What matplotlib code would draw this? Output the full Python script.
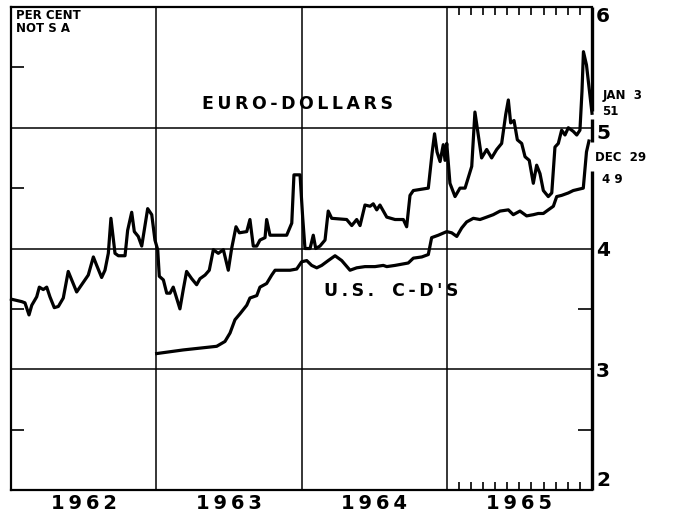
import numpy as np
import matplotlib
matplotlib.use("Agg")
import matplotlib.pyplot as plt
from matplotlib.transforms import ScaledTranslation

# Euro-dollar deposit rate (per cent), dates as decimal years
euro_dates = [1962.003, 1962.074, 1962.096, 1962.124, 1962.143, 1962.177, 1962.195, 1962.222,
              1962.246, 1962.268, 1962.298, 1962.326, 1962.360, 1962.394, 1962.418, 1962.452,
              1962.475, 1962.509, 1962.532, 1962.567, 1962.590, 1962.624, 1962.647, 1962.670,
              1962.688, 1962.716, 1962.739, 1962.785, 1962.803, 1962.831, 1962.849, 1962.876,
              1962.900, 1962.941, 1962.969, 1962.991, 1963.010, 1963.021, 1963.049, 1963.072,
              1963.095, 1963.117, 1963.163, 1963.186, 1963.209, 1963.244, 1963.278, 1963.301,
              1963.336, 1963.365, 1963.393, 1963.427, 1963.462, 1963.496, 1963.519, 1963.549,
              1963.572, 1963.623, 1963.645, 1963.668, 1963.692, 1963.714, 1963.749, 1963.760,
              1963.783, 1963.898, 1963.933, 1963.948, 1963.990, 1964.008, 1964.024, 1964.059,
              1964.081, 1964.098, 1964.127, 1964.162, 1964.184, 1964.208, 1964.311, 1964.346,
              1964.380, 1964.403, 1964.437, 1964.472, 1964.494, 1964.518, 1964.540, 1964.587,
              1964.644, 1964.701, 1964.724, 1964.747, 1964.770, 1964.873, 1964.900, 1964.916,
              1964.933, 1964.954, 1964.976, 1964.988, 1965.000, 1965.022, 1965.057, 1965.091,
              1965.126, 1965.172, 1965.194, 1965.240, 1965.275, 1965.309, 1965.344, 1965.378,
              1965.406, 1965.424, 1965.440, 1965.463, 1965.486, 1965.516, 1965.539, 1965.568,
              1965.596, 1965.619, 1965.642, 1965.665, 1965.699, 1965.723, 1965.745, 1965.768,
              1965.791, 1965.814, 1965.837, 1965.871, 1965.895, 1965.917, 1965.931, 1965.941,
              1965.962, 1966.000]
euro_rate = [3.58, 3.56, 3.55, 3.45, 3.53, 3.60, 3.68, 3.66,
             3.68, 3.60, 3.51, 3.52, 3.59, 3.81, 3.74, 3.64,
             3.68, 3.74, 3.78, 3.93, 3.86, 3.76, 3.82, 3.96,
             4.25, 3.96, 3.94, 3.94, 4.15, 4.30, 4.14, 4.10,
             4.02, 4.33, 4.28, 4.07, 3.99, 3.77, 3.74, 3.63,
             3.63, 3.68, 3.50, 3.66, 3.81, 3.75, 3.70, 3.75,
             3.78, 3.82, 3.99, 3.96, 3.99, 3.82, 4.00, 4.18,
             4.13, 4.14, 4.24, 4.02, 4.02, 4.07, 4.09, 4.24,
             4.11, 4.11, 4.21, 4.61, 4.61, 4.26, 4.00, 4.00,
             4.11, 4.00, 4.02, 4.07, 4.31, 4.25, 4.24, 4.19,
             4.24, 4.19, 4.36, 4.35, 4.37, 4.32, 4.36, 4.26,
             4.24, 4.24, 4.18, 4.44, 4.48, 4.50, 4.80, 4.95,
             4.80, 4.72, 4.86, 4.73, 4.87, 4.54, 4.43, 4.50,
             4.50, 4.68, 5.13, 4.75, 4.82, 4.75, 4.82, 4.87,
             5.11, 5.23, 5.04, 5.06, 4.90, 4.87, 4.76, 4.73,
             4.54, 4.69, 4.62, 4.48, 4.43, 4.46, 4.84, 4.87,
             4.98, 4.94, 5.00, 4.97, 4.94, 4.98, 5.30, 5.63,
             5.52, 5.12]

# U.S. certificates of deposit (per cent)
cd_dates = [1963.003, 1963.186, 1963.416, 1963.473, 1963.508, 1963.542, 1963.577, 1963.623,
            1963.645, 1963.692, 1963.714, 1963.760, 1963.795, 1963.818, 1963.921, 1963.967,
            1964.001, 1964.036, 1964.070, 1964.105, 1964.139, 1964.184, 1964.231, 1964.277,
            1964.334, 1964.380, 1964.437, 1964.506, 1964.563, 1964.587, 1964.644, 1964.735,
            1964.770, 1964.828, 1964.873, 1964.896, 1964.942, 1965.000, 1965.034, 1965.069,
            1965.103, 1965.137, 1965.183, 1965.229, 1965.275, 1965.320, 1965.367, 1965.424,
            1965.458, 1965.504, 1965.550, 1965.596, 1965.630, 1965.665, 1965.699, 1965.734,
            1965.757, 1965.791, 1965.837, 1965.871, 1965.940, 1965.962, 1965.979]
cd_rate = [3.13, 3.16, 3.19, 3.23, 3.30, 3.41, 3.46, 3.53,
           3.59, 3.61, 3.68, 3.71, 3.78, 3.82, 3.82, 3.83,
           3.89, 3.90, 3.86, 3.84, 3.86, 3.90, 3.94, 3.90,
           3.82, 3.84, 3.85, 3.85, 3.86, 3.85, 3.86, 3.88,
           3.92, 3.93, 3.95, 4.09, 4.11, 4.14, 4.13, 4.10,
           4.17, 4.22, 4.25, 4.24, 4.26, 4.28, 4.31, 4.32,
           4.28, 4.31, 4.27, 4.28, 4.29, 4.29, 4.32, 4.35,
           4.43, 4.44, 4.46, 4.48, 4.50, 4.80, 4.89]

years = [1962, 1963, 1964, 1965]
y_ticks = [2, 3, 4, 5, 6]
y_labels = ["2", "3", "4", "5", "6"]

# end-of-series notes to the right of the chart
notes = ["JAN  3", "51", "DEC  29", "4 9"]
note_y = [5.27, 5.135, 4.75, 4.57]
note_dx = [8, 7, 2, 7]

x0, x1 = years[0], years[-1] + 1

fig = plt.figure(figsize=(6.76, 5.16), dpi=100)
ax = fig.add_axes([11 / 676, 1 - 490 / 516, 581 / 676, 483 / 516])
ax.set_xlim(x0, x1)
ax.set_ylim(y_ticks[0], y_ticks[-1])

# grid
for yv in y_ticks[1:-1]:
    ax.axhline(yv, color="black", lw=1.1, zorder=1)
for xv in years[1:]:
    ax.axvline(xv, color="black", lw=1.1, zorder=1)

ax.plot(euro_dates, euro_rate, color="black", lw=2.3, zorder=3, clip_on=False)
ax.plot(cd_dates, cd_rate, color="black", lw=2.3, zorder=3, clip_on=False)

# frame; right edge is broken where the series end
for side in ["left", "bottom", "top"]:
    ax.spines[side].set_linewidth(1.6)
ax.spines["right"].set_visible(False)
ax.vlines([x1] * 3, [5.14, 4.88, 2.0], [6.0, 5.07, 4.64], color="black", lw=2.4,
          clip_on=False, zorder=4)

# half-point ticks, inside
ax.hlines([2.5, 3.5, 4.5, 5.5], x0, x0 + 0.09, color="black", lw=1.2)
ax.hlines([2.5, 3.5], x1 - 0.095, x1, color="black", lw=1.2)

# monthly ticks for 1965, top and bottom
months = [years[-1] + m / 12 for m in range(1, 12)]
ax.vlines(months, 0, 0.017, transform=ax.get_xaxis_transform(), color="black", lw=1.2)
ax.vlines(months, 0.983, 1, transform=ax.get_xaxis_transform(), color="black", lw=1.2)

# axis labels
ax.set_xticks([y + 0.5 for y in years])
ax.set_xticklabels(["\u2009".join(str(y)) for y in years], fontsize=14, fontweight="bold")
ax.tick_params(axis="x", length=0, pad=3)
ax.yaxis.tick_right()
ax.set_yticks(y_ticks)
ax.set_yticklabels(y_labels, fontsize=14.5, fontweight="bold")
ax.tick_params(axis="y", length=0, pad=3)
tl = ax.get_yticklabels()
tl[0].set_va("bottom")
tl[-1].set_va("top")
tl[3].set_transform(tl[3].get_transform() + ScaledTranslation(0, -3 / 72, fig.dpi_scale_trans))

ax.text(0.008, 0.995, "PER CENT\nNOT S A", transform=ax.transAxes, ha="left", va="top",
        fontsize=8.5, fontweight="bold", linespacing=0.95)
ax.text(1963.975, 5.2, "\u2009".join("EURO-DOLLARS"), ha="center", va="center",
        fontsize=12.5, fontweight="bold")
ax.text(1964.615, 3.65, "\u2009".join("U.S.") + "   " + "\u2009".join("C-D'S"),
        ha="center", va="center", fontsize=12.5, fontweight="bold")

for txt, yv, dx in zip(notes, note_y, note_dx):
    ax.annotate(txt, xy=(x1, yv), xytext=(dx, 0), textcoords="offset points",
                ha="left", va="center", fontsize=8.5, fontweight="bold", annotation_clip=False)

fig.savefig("out.png", dpi=100)
